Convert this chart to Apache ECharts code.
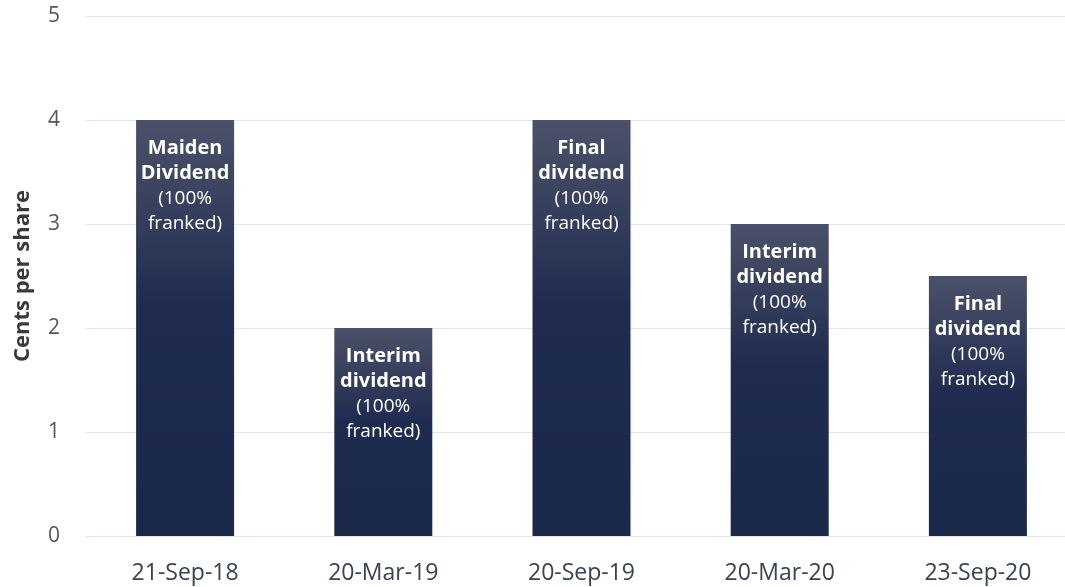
<!DOCTYPE html>
<html>
<head>
<meta charset="utf-8">
<script src="https://cdn.jsdelivr.net/npm/echarts@6/dist/echarts.min.js"></script>
<style>
  html, body { margin: 0; padding: 0; background: #fff; }
  #chart { width: 1065px; height: 587px; }
</style>
</head>
<body>
<div id="chart"></div>
<script>
  // payment dates
  const dates = ['21-Sep-18', '20-Mar-19', '20-Sep-19', '20-Mar-20', '23-Sep-20'];
  // cents per share
  const cents = [4, 2, 4, 3, 2.5];
  // label text inside each bar
  const titles = [['Maiden', 'Dividend'], ['Interim', 'dividend'], ['Final', 'dividend'], ['Interim', 'dividend'], ['Final', 'dividend']];
  const notes = ['(100%', 'franked)'];
  const yTicks = [0, 1, 2, 3, 4, 5];

  const chart = echarts.init(document.getElementById('chart'));

  const option = {
    animation: false,
    grid: { left: 86, width: 991, top: 16, bottom: 51, outerBoundsMode: 'none', containLabel: false },
    xAxis: {
      type: 'category',
      data: dates,
      axisLine: { show: true, lineStyle: { color: '#e2e6ec', width: 1 } },
      axisTick: { show: false },
      axisLabel: { color: '#3a4354', fontSize: 23, fontFamily: 'Open Sans', margin: 26 }
    },
    yAxis: {
      type: 'value',
      min: yTicks[0],
      max: yTicks[yTicks.length - 1],
      interval: 1,
      name: 'Cents per share',
      nameLocation: 'middle',
      nameGap: 52,
      nameTextStyle: { color: '#3a3a3a', fontSize: 22, fontWeight: 'bold', fontFamily: 'Open Sans' },
      axisLine: { show: false },
      axisTick: { show: false },
      splitLine: { lineStyle: { color: '#e2e6ec', width: 1 } },
      axisLabel: { color: '#555', fontSize: 21, fontFamily: 'Open Sans', margin: 26 }
    },
    series: [{
      type: 'bar',
      barWidth: 98,
      data: cents.map((v, i) => ({ value: v, name: titles[i].join(' ') })),
      itemStyle: {
        color: new echarts.graphic.LinearGradient(0, 0, 0, 1, [
          { offset: 0, color: '#4b5169' },
          { offset: 0.45, color: '#1f2c50' },
          { offset: 1, color: '#1a284a' }
        ])
      },
      label: {
        show: true,
        position: 'insideTop',
        distance: 16,
        formatter: p => {
          const t = titles[p.dataIndex];
          return '{b|' + t[0] + '}\n{b|' + t[1] + '}\n{n|' + notes[0] + '}\n{n|' + notes[1] + '}';
        },
        rich: {
          b: { color: '#fff', fontSize: 20, fontWeight: 'bold', fontFamily: 'Open Sans', lineHeight: 25 },
          n: { color: '#fff', fontSize: 19, fontFamily: 'Open Sans', lineHeight: 25 }
        }
      }
    }]
  };

  chart.setOption(option);
</script>
</body>
</html>
